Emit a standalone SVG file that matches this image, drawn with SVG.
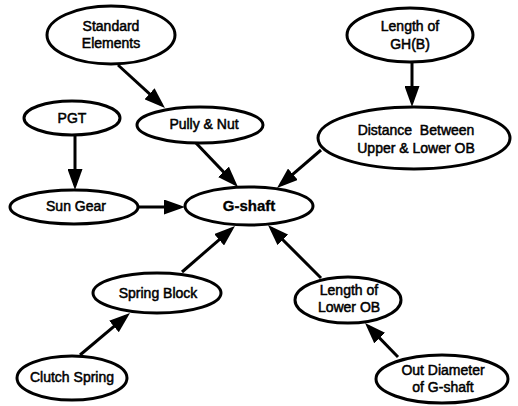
<svg xmlns="http://www.w3.org/2000/svg" width="518" height="406" viewBox="0 0 518 406">
  <style>
    .node ellipse { fill: #fff; stroke: #000; stroke-width: 3; }
    .node text { font-family: "Liberation Sans", Arial, sans-serif; font-size: 14px; fill: #000; text-anchor: middle; stroke: #000; stroke-width: 0.5; }
    .node text.main { font-size: 15px; font-weight: bold; stroke-width: 0.3; }
    .edges path { fill: none; stroke: #000; stroke-width: 3; marker-end: url(#head); }
  </style>
  <defs>
    <marker id="head" markerUnits="userSpaceOnUse" markerWidth="21" markerHeight="15" refX="16" refY="7.5" orient="auto">
      <path d="M0,0 L21,7.5 L0,15 z" fill="#000"/>
    </marker>
  </defs>
  <rect width="518" height="406" fill="#fff"/>

  <g class="edges">
    <path d="M118,65 L161.3,104.6"/>
    <path d="M75,135 L75,185"/>
    <path d="M195,142 L234.5,183.4"/>
    <path d="M412,62 L412,102"/>
    <path d="M321,150 L280.8,184.7"/>
    <path d="M138,207 L180,207"/>
    <path d="M182,272 L231.2,229.3"/>
    <path d="M321,278 L271.5,228.5"/>
    <path d="M80,355 L126.2,316.2"/>
    <path d="M398,357 L368.5,326.6"/>
  </g>

  <g id="standard-elements" class="node">
    <ellipse cx="111" cy="35" rx="64" ry="29"/>
    <text x="111" y="31">Standard</text>
    <text x="111" y="48">Elements</text>
  </g>
  <g id="pgt" class="node">
    <ellipse cx="72" cy="118" rx="48" ry="17"/>
    <text x="72" y="123">PGT</text>
  </g>
  <g id="pully-nut" class="node">
    <ellipse cx="200" cy="125" rx="63" ry="18"/>
    <text x="204" y="129">Pully &amp; Nut</text>
  </g>
  <g id="length-gh" class="node">
    <ellipse cx="410" cy="35" rx="63" ry="27"/>
    <text x="410" y="31">Length of</text>
    <text x="410" y="49">GH(B)</text>
  </g>
  <g id="distance-ob" class="node">
    <ellipse cx="414" cy="138" rx="96" ry="31"/>
    <text x="416" y="135" xml:space="preserve">Distance  Between</text>
    <text x="416" y="153">Upper &amp; Lower OB</text>
  </g>
  <g id="sun-gear" class="node">
    <ellipse cx="74" cy="207" rx="64" ry="17"/>
    <text x="76" y="211">Sun Gear</text>
  </g>
  <g id="g-shaft" class="node">
    <ellipse cx="249" cy="206" rx="64" ry="19"/>
    <text class="main" x="249" y="211">G-shaft</text>
  </g>
  <g id="spring-block" class="node">
    <ellipse cx="157" cy="293" rx="64" ry="20"/>
    <text x="158" y="298">Spring Block</text>
  </g>
  <g id="length-lower-ob" class="node">
    <ellipse cx="348" cy="300" rx="53" ry="23"/>
    <text x="349" y="295">Length of</text>
    <text x="349" y="312">Lower OB</text>
  </g>
  <g id="clutch-spring" class="node">
    <ellipse cx="72" cy="378" rx="55" ry="22"/>
    <text x="72" y="382">Clutch Spring</text>
  </g>
  <g id="out-diameter" class="node">
    <ellipse cx="442" cy="379" rx="66" ry="24"/>
    <text x="443" y="375">Out Diameter</text>
    <text x="443" y="392">of G-shaft</text>
  </g>
</svg>
